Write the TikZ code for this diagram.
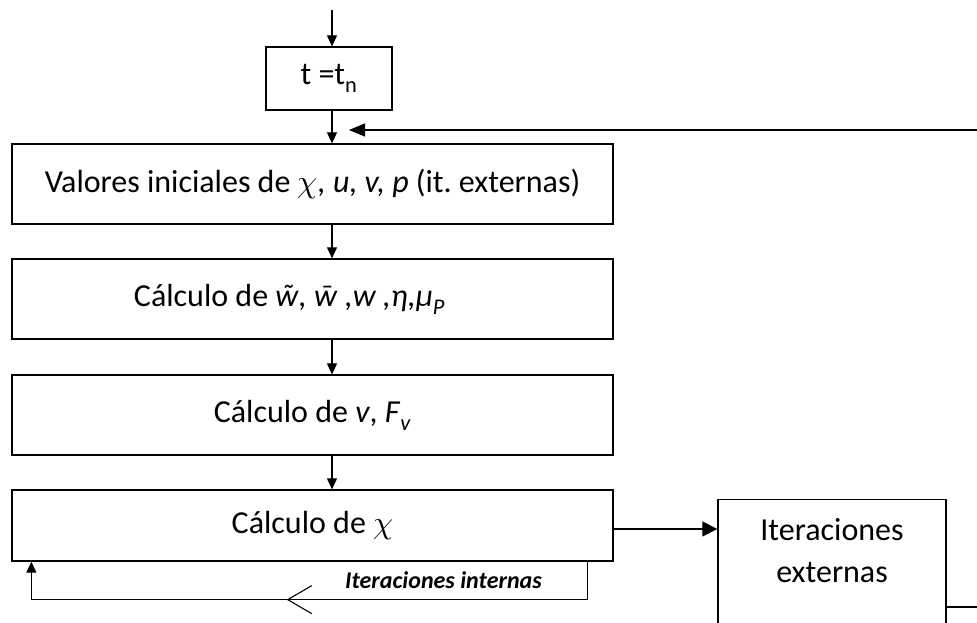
\documentclass[tikz,border=0pt]{standalone}
\usepackage{fontspec}
\usepackage{unicode-math}
\setmainfont{Carlito}
\setmathfont{latinmodern-math.otf}
\usetikzlibrary{arrows.meta,decorations.markings}
\frenchspacing
% acento sobre la w
\newcommand{\acw}[1]{\ooalign{\textit{w}\cr\hidewidth\textit{#1}\hidewidth\cr}}

\begin{document}
\begin{tikzpicture}[x=1pt,y=-1pt,
	caja/.style={draw,line width=1.3pt,inner sep=0pt,minimum width=601pt,font=\fontsize{32}{42}\selectfont},
	flecha/.style={line width=1.1pt,-{Triangle[length=11pt,width=10pt]}}]
	\useasboundingbox (0,0) rectangle (977,623);

	\node[caja,minimum width=126pt,minimum height=63pt] (tn) at (329,78.5) {t =t\textsubscript{n}};
	\node[caja,minimum height=80pt] (valores) at (312.5,184) {Valores iniciales de $\chi$\textit{, u, v, p} (it. externas)};
	\node[caja,minimum height=80pt] (calcw) at (312.5,299) {Cálculo de \acw{˜}\textit{, }\acw{¯}\textit{ ,w ,η,μ}\textsubscript{\textit{P}}\hspace*{46pt}};
	\node[caja,minimum height=80pt] (calcv) at (312.5,415) {Cálculo de \textit{v}, \textit{F}\textsubscript{\textit{v}}};
	\node[caja,minimum height=71pt] (calcchi) at (312.5,525.5) {Cálculo de $\chi$};
	\node[caja,minimum width=228pt,anchor=north,align=center,text height=83pt,text depth=120pt] (iterext) at (832,499) {Iteraciones\\externas};

	\coordinate (entrada) at (332,10);
	\coordinate (fb) at (977,130);
	\coordinate (fbtip) at (349,130);
	\coordinate (salida) at (977,607);

	\draw[flecha] (entrada) -- (entrada |- tn.north);
	\draw[flecha] (tn.south -| entrada) -- (entrada |- valores.north);
	\draw[flecha] (valores.south -| entrada) -- (entrada |- calcw.north);
	\draw[flecha] (calcw.south -| entrada) -- (entrada |- calcv.north);
	\draw[flecha] (calcv.south -| entrada) -- (entrada |- calcchi.north);
	\draw[line width=1.1pt,-{Triangle[length=16pt,width=13pt]}] (fb) -- (fbtip);
	\draw[line width=1.1pt,-{Triangle[length=15pt,width=15pt]}] (calcchi.east |- 0,529) -- (iterext.west |- 0,529);
	\draw[line width=1.1pt] (iterext.east |- salida) -- (salida);

	% iteraciones internas
	\draw[flecha,postaction={decorate},decoration={markings,mark=at position 339pt with {\arrow[line width=1.1pt]{Straight Barb[length=24pt,width=28pt]}}}]
		([xshift=-26pt]calcchi.south east) -- ++(0,38) -| ([xshift=20pt]calcchi.south west);
	\node[anchor=base east,font=\fontsize{24}{28}\selectfont\bfseries\itshape,inner sep=0pt] (internas) at (542,588) {Iteraciones internas};
\end{tikzpicture}
\end{document}
